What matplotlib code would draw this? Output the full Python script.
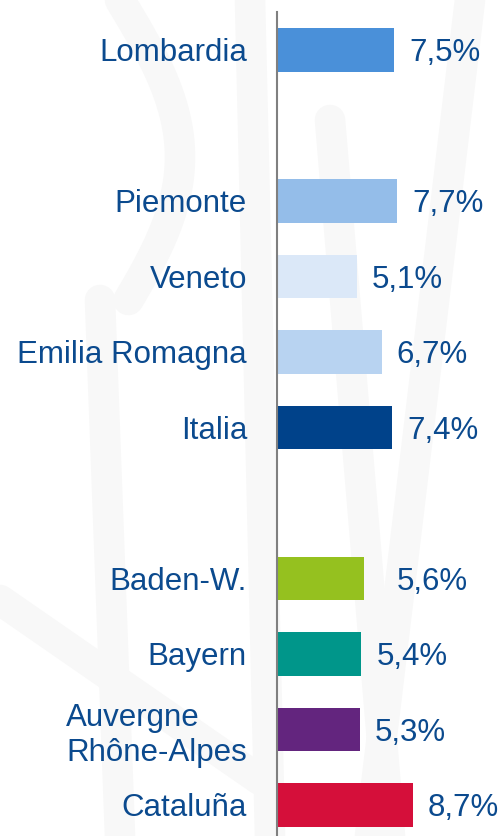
import matplotlib
matplotlib.use("Agg")
import matplotlib.pyplot as plt
import numpy as np

categories = ["Lombardia", "", "Piemonte", "Veneto", "Emilia Romagna", "Italia", "",
              "Baden-W.", "Bayern", "Auvergne\nRhône-Alpes", "Cataluña"]
values = [7.5, None, 7.7, 5.1, 6.7, 7.4, None, 5.6, 5.4, 5.3, 8.7]
value_labels = ["7,5%", "", "7,7%", "5,1%", "6,7%", "7,4%", "", "5,6%", "5,4%", "5,3%", "8,7%"]
colors = ["#4a90d9", None, "#94bde9", "#dbe8f8", "#b8d3f1", "#00428a", None,
          "#95c11f", "#00968a", "#63257e", "#d50f3a"]
label_offsets = [11, 0, 11, 11, 11, 11, 0, 23, 11, 11, 11]

TEXT = "#0b4a8e"
FONT = "Liberation Sans"
FS = 22.5

fig = plt.figure(figsize=(5.04, 8.36), dpi=100)
fig.patch.set_facecolor("white")

# faint background watermark strokes
bg = fig.add_axes([0, 0, 1, 1], zorder=0)
bg.set_xlim(0, 504); bg.set_ylim(836, 0); bg.axis("off")
t = np.linspace(0, 1, 50)
strokes = [
    (120 + 60 * np.sin(t * 3), 0 + 300 * t),
    (100 + 20 * t, 300 + 536 * t),
    (250 + 20 * t, 0 + 836 * t),
    (330 + 60 * t, 120 + 716 * t),
    (470 - 100 * t, 0 + 836 * t),
    (0 + 260 * t, 600 + 180 * t),
]
for xs, ys in strokes:
    bg.plot(xs, ys, color="#f8f8f8", lw=22, solid_capstyle="round", zorder=0)

top_px = 12
n_top = (top_px - 50) / 75.5
n_bot = (836 - 50) / 75.5
ax = fig.add_axes([277 / 504, 0, 1 - 277 / 504, 1 - top_px / 836], zorder=1)
ax.patch.set_alpha(0)
ax.set_ylim(n_bot, n_top)
ax.set_xlim(0, (504 - 277) / 15.6)

for i, (v, c, lab, off) in enumerate(zip(values, colors, value_labels, label_offsets)):
    if v is None:
        continue
    ax.barh(i, v, height=0.58, color=c, left=0, zorder=2)
    ax.annotate(lab, xy=(v, i), xytext=(off, 0), textcoords="offset points",
                ha="left", va="center_baseline", fontsize=FS, color=TEXT, family=FONT)

ax.set_yticks(range(len(categories)))
ax.set_yticklabels(categories, fontsize=FS, color=TEXT, family=FONT)
ax.tick_params(axis="y", length=0, pad=21.6)
ax.tick_params(axis="x", bottom=False, labelbottom=False)
for lbl in ax.get_yticklabels():
    if "\n" in lbl.get_text():
        lbl.set_multialignment("left")
        lbl.set_linespacing(1.2)

for s in ["top", "right", "bottom"]:
    ax.spines[s].set_visible(False)
ax.spines["left"].set_color("#808080")
ax.spines["left"].set_linewidth(1.5)

fig.savefig("out.png", dpi=100, facecolor="white")
